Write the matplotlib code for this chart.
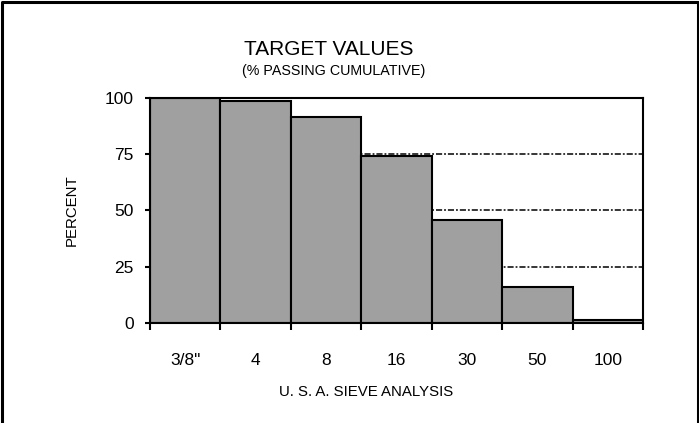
import matplotlib
matplotlib.use("Agg")
import matplotlib.pyplot as plt
from matplotlib.lines import Line2D
import numpy as np

plt.rcParams['font.family'] = ['Liberation Sans', 'DejaVu Sans']

# --- data ---
sieves = ['3/8"', '4', '8', '16', '30', '50', '100']
passing = [100, 98.5, 91.4, 74.3, 46, 16, 1.5]
y_ticks = [0, 25, 50, 75, 100]

W, H = 699, 423
fig = plt.figure(figsize=(W / 100, H / 100), dpi=100, facecolor='white')
ax = fig.add_axes([150 / W, 1 - 323 / H, (643 - 150) / W, (323 - 98) / H])

x = np.arange(len(sieves))
ax.bar(x, passing, width=1.0, color='#a0a0a0', edgecolor='black', linewidth=1.5, zorder=3)

ax.set_xlim(-0.5, len(sieves) - 0.5)
ax.set_ylim(0, 100)

# dash-dot gridlines behind the bars
for v in y_ticks[1:-1]:
    ax.axhline(v, color='black', linewidth=1.1, linestyle=(0, (4, 1.3, 1.2, 1.3)), zorder=1)

ax.set_yticks(y_ticks)
ax.tick_params(axis='y', direction='out', length=3.6, width=1.5, pad=8, labelsize=12.5)

# ticks at bar boundaries, labels at bar centres
ax.set_xticks(np.arange(len(sieves) + 1) - 0.5)
ax.set_xticklabels([])
ax.tick_params(axis='x', which='major', direction='out', length=5, width=1.5)
ax.set_xticks(x, minor=True)
ax.set_xticklabels(sieves, minor=True)
ax.tick_params(axis='x', which='minor', length=0, pad=21.5, labelsize=12.5)

for s in ax.spines.values():
    s.set_linewidth(1.5)
    s.set_zorder(4)

fig.text(329 / W, 1 - 49 / H, 'TARGET VALUES', ha='center', va='center', fontsize=15)
fig.text(334 / W, 1 - 71 / H, '(% PASSING CUMULATIVE)', ha='center', va='center', fontsize=10.3)
fig.text(366 / W, 1 - 392 / H, 'U. S. A. SIEVE ANALYSIS', ha='center', va='center', fontsize=10.8)
fig.text(72 / W, 1 - 210 / H, 'PERCENT', ha='center', va='center', rotation=90, fontsize=10.8)

# outer frame (left, top, right)
fig.add_artist(Line2D([1.5 / W, 1.5 / W, 697.5 / W, 697.5 / W], [0, 1 - 2 / H, 1 - 2 / H, 0],
                      color='black', linewidth=2.2))

fig.savefig('out.png', dpi=100, facecolor='white')
